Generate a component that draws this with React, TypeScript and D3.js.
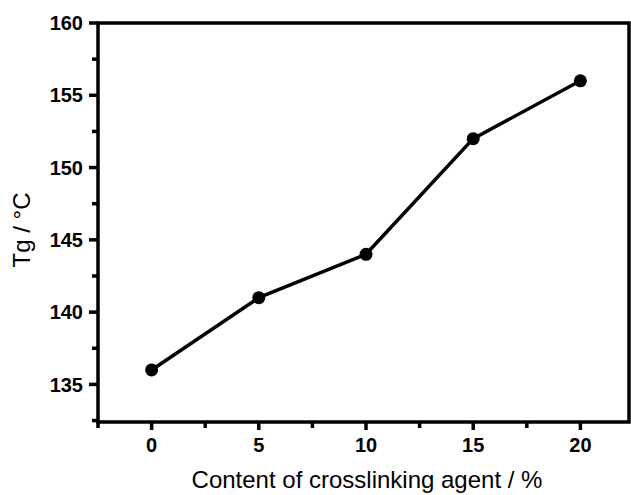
import React from 'react';
import * as d3 from 'd3';

const contents = [0, 5, 10, 15, 20];
const tgValues = [136, 141, 144, 152, 156];
const xTicks = [0, 5, 10, 15, 20];
const yTicks = [135, 140, 145, 150, 155, 160];
const xMinor = [-2.5, 2.5, 7.5, 12.5, 17.5];
const yMinor = [132.5, 137.5, 142.5, 147.5, 152.5, 157.5];

const W = 631;
const H = 495;
const left = 98;
const right = 634;
const top = 23;
const bottom = 422;
const font = '"Liberation Sans", Arial, Helvetica, sans-serif';

const App = () => {
  const x = d3.scaleLinear().domain([-2.5, 22.5]).range([left, right]);
  const y = d3.scaleLinear().domain([132.4, 160]).range([bottom, top]);

  const points = contents.map((c, i) => [c, tgValues[i]] as [number, number]);
  const line = d3
    .line<[number, number]>()
    .x(d => x(d[0]))
    .y(d => y(d[1]));

  return (
    <svg
      width={W}
      height={H}
      style={{ position: 'absolute', left: 0, top: 0, background: '#fff' }}
      fontFamily={font}
    >
      {/* frame, right side cut off by the picture edge */}
      <rect x={left} y={top} width={W - 2 - left} height={bottom - top} fill="none" stroke="#000" strokeWidth={3.5} />

      {/* x ticks */}
      {xTicks.map(t => (
        <g key={'xt' + t}>
          <line x1={x(t)} x2={x(t)} y1={bottom} y2={bottom + 8} stroke="#000" strokeWidth={3.5} />
          <text x={x(t)} y={bottom + 30} textAnchor="middle" fontSize={20} fontWeight="bold">
            {t}
          </text>
        </g>
      ))}
      {xMinor.map(t => (
        <line key={'xm' + t} x1={x(t)} x2={x(t)} y1={bottom} y2={bottom + 6} stroke="#000" strokeWidth={3.5} />
      ))}

      {/* y ticks */}
      {yTicks.map(t => (
        <g key={'yt' + t}>
          <line x1={left} x2={left - 9} y1={y(t)} y2={y(t)} stroke="#000" strokeWidth={3.5} />
          <text x={left - 15} y={y(t)} dy="0.36em" textAnchor="end" fontSize={20} fontWeight="bold">
            {t}
          </text>
        </g>
      ))}
      {yMinor.map(t => (
        <line key={'ym' + t} x1={left} x2={left - 6} y1={y(t)} y2={y(t)} stroke="#000" strokeWidth={3.5} />
      ))}

      {/* data */}
      <path d={line(points) || ''} fill="none" stroke="#000" strokeWidth={3.5} />
      {points.map((p, i) => (
        <circle key={i} cx={x(p[0])} cy={y(p[1])} r={6.5} fill="#000" />
      ))}

      {/* axis titles */}
      <text x={367} y={488} textAnchor="middle" fontSize={24}>
        Content of crosslinking agent / %
      </text>
      <text transform="translate(30,230) rotate(-90)" textAnchor="middle" fontSize={24}>
        Tg / °C
      </text>
    </svg>
  );
};

export default App;
